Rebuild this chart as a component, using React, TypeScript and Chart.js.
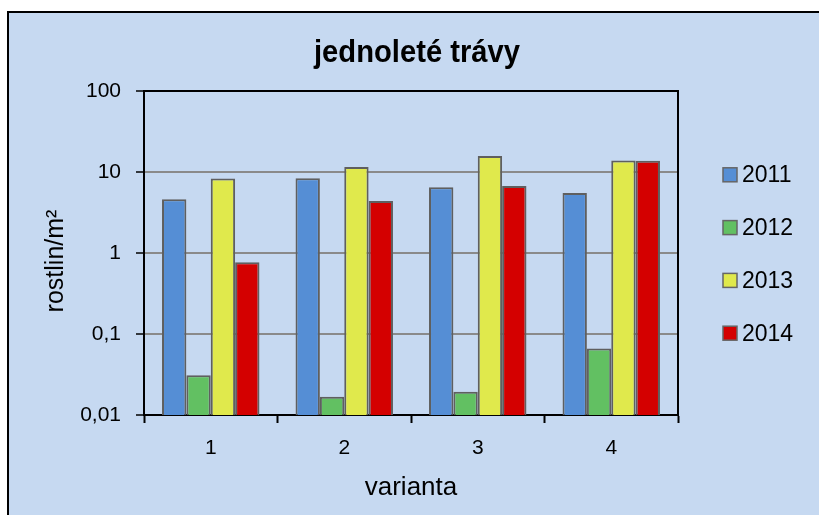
import React, { useEffect, useRef } from 'react';
import { Chart, registerables } from 'chart.js';

Chart.register(...registerables);

const categories = ['1', '2', '3', '4'];
const seriesLabels = ['2011', '2012', '2013', '2014'];
const values2011 = [4.6, 8.4, 6.5, 5.5];
const values2012 = [0.031, 0.0168, 0.0194, 0.066];
const values2013 = [8.3, 11.5, 15.8, 13.9];
const values2014 = [0.77, 4.4, 6.7, 13.8];
const yTicks = [0.01, 0.1, 1, 10, 100];
const seriesColors = ['#558ED5', '#62C062', '#E0E94C', '#D40000'];
const titleText = 'jednoleté trávy';
const xTitle = 'varianta';
const yTitle = 'rostlin/m²';

const FONT = '"Liberation Sans", Arial, sans-serif';
const BG = '#C6D9F1';

const decor = {
  id: 'decor',
  beforeDraw(chart: any) {
    const ctx = chart.ctx;
    ctx.save();
    ctx.fillStyle = '#ffffff';
    ctx.fillRect(0, 0, chart.width, chart.height);
    ctx.fillStyle = BG;
    ctx.fillRect(7, 11, chart.width - 8, chart.height - 11);
    ctx.fillStyle = '#000';
    ctx.fillRect(7, 11, 2, chart.height - 11);
    ctx.fillRect(7, 11, chart.width - 8, 2);
    ctx.restore();
  },
  afterDraw(chart: any) {
    const ctx = chart.ctx;
    const a = chart.chartArea;
    ctx.save();
    // plot frame (top and right)
    ctx.strokeStyle = '#000';
    ctx.lineWidth = 2;
    ctx.beginPath();
    ctx.moveTo(a.left, a.top);
    ctx.lineTo(a.right, a.top);
    ctx.lineTo(a.right, a.bottom);
    ctx.stroke();

    // title (slightly condensed, like the original)
    ctx.save();
    ctx.fillStyle = '#000';
    ctx.font = `bold 32px ${FONT}`;
    ctx.textAlign = 'center';
    ctx.textBaseline = 'alphabetic';
    const w = ctx.measureText(titleText).width;
    ctx.translate(417, 62);
    ctx.scale(Math.min(1, 206 / w), 1);
    ctx.fillText(titleText, 0, 0);
    ctx.restore();

    // y title
    ctx.save();
    ctx.fillStyle = '#000';
    ctx.translate(63, 261);
    ctx.rotate(-Math.PI / 2);
    ctx.font = `25px ${FONT}`;
    ctx.textAlign = 'center';
    ctx.textBaseline = 'alphabetic';
    ctx.fillText(yTitle, 0, 0);
    ctx.restore();

    // legend
    const cy = (a.top + a.bottom) / 2 + 1;
    const step = 52.8;
    chart.data.datasets.forEach((ds: any, i: number) => {
      const y = cy + (i - (chart.data.datasets.length - 1) / 2) * step;
      ctx.fillStyle = ds.backgroundColor;
      ctx.fillRect(723, y - 7, 14, 14);
      ctx.strokeStyle = '#666';
      ctx.lineWidth = 1.5;
      ctx.strokeRect(723, y - 7, 14, 14);
      ctx.fillStyle = '#000';
      ctx.font = `23px ${FONT}`;
      ctx.textAlign = 'left';
      ctx.textBaseline = 'middle';
      ctx.fillText(ds.label, 742, y + 1);
    });
    ctx.restore();
  },
};

export default function App() {
  const ref = useRef<HTMLCanvasElement>(null);
  useEffect(() => {
    const data = [values2011, values2012, values2013, values2014];
    const chart = new Chart(ref.current as HTMLCanvasElement, {
      type: 'bar',
      data: {
        labels: categories,
        datasets: seriesLabels.map((label, i) => ({
          label,
          data: data[i],
          backgroundColor: seriesColors[i],
          borderColor: '#5f5f5f',
          borderWidth: 2,
          categoryPercentage: 0.73,
          barPercentage: 1.0,
        })),
      },
      options: {
        responsive: false,
        animation: false,
        layout: { padding: { left: 9, top: 91, right: 142, bottom: 0 } },
        plugins: {
          legend: { display: false },
          title: { display: false },
          tooltip: { enabled: false },
        },
        scales: {
          x: {
            type: 'category',
            grid: {
              display: true,
              drawOnChartArea: false,
              offset: true,
              tickLength: 8,
              tickColor: '#000',
              tickWidth: 2,
            },
            border: { display: true, color: '#000', width: 2 },
            ticks: { color: '#000', font: { family: FONT, size: 21 }, padding: 13 },
            title: {
              display: true,
              text: xTitle,
              color: '#000',
              font: { family: FONT, size: 26 },
              padding: { top: 0, bottom: 12 },
            },
            afterFit: (s: any) => {
              s.height = 100;
            },
          },
          y: {
            type: 'logarithmic',
            min: 0.01,
            max: 100,
            afterBuildTicks: (s: any) => {
              s.ticks = yTicks.map((v) => ({ value: v }));
            },
            ticks: {
              color: '#000',
              font: { family: FONT, size: 21 },
              padding: 15,
              autoSkip: false,
              callback: (v: any) => String(v).replace('.', ','),
            },
            grid: {
              color: '#8a8a8a',
              lineWidth: 2,
              tickLength: 8,
              tickColor: '#000',
              tickWidth: 1.5,
            },
            border: { display: true, color: '#000', width: 2 },
            afterFit: (s: any) => {
              s.width = 135;
            },
          },
        },
      },
      plugins: [decor],
    } as any);
    return () => chart.destroy();
  }, []);
  return (
    <div style={{ position: 'fixed', left: 0, top: 0, width: 820, height: 515 }}>
      <canvas ref={ref} width={820} height={515} style={{ display: 'block', width: 820, height: 515 }} />
    </div>
  );
}
